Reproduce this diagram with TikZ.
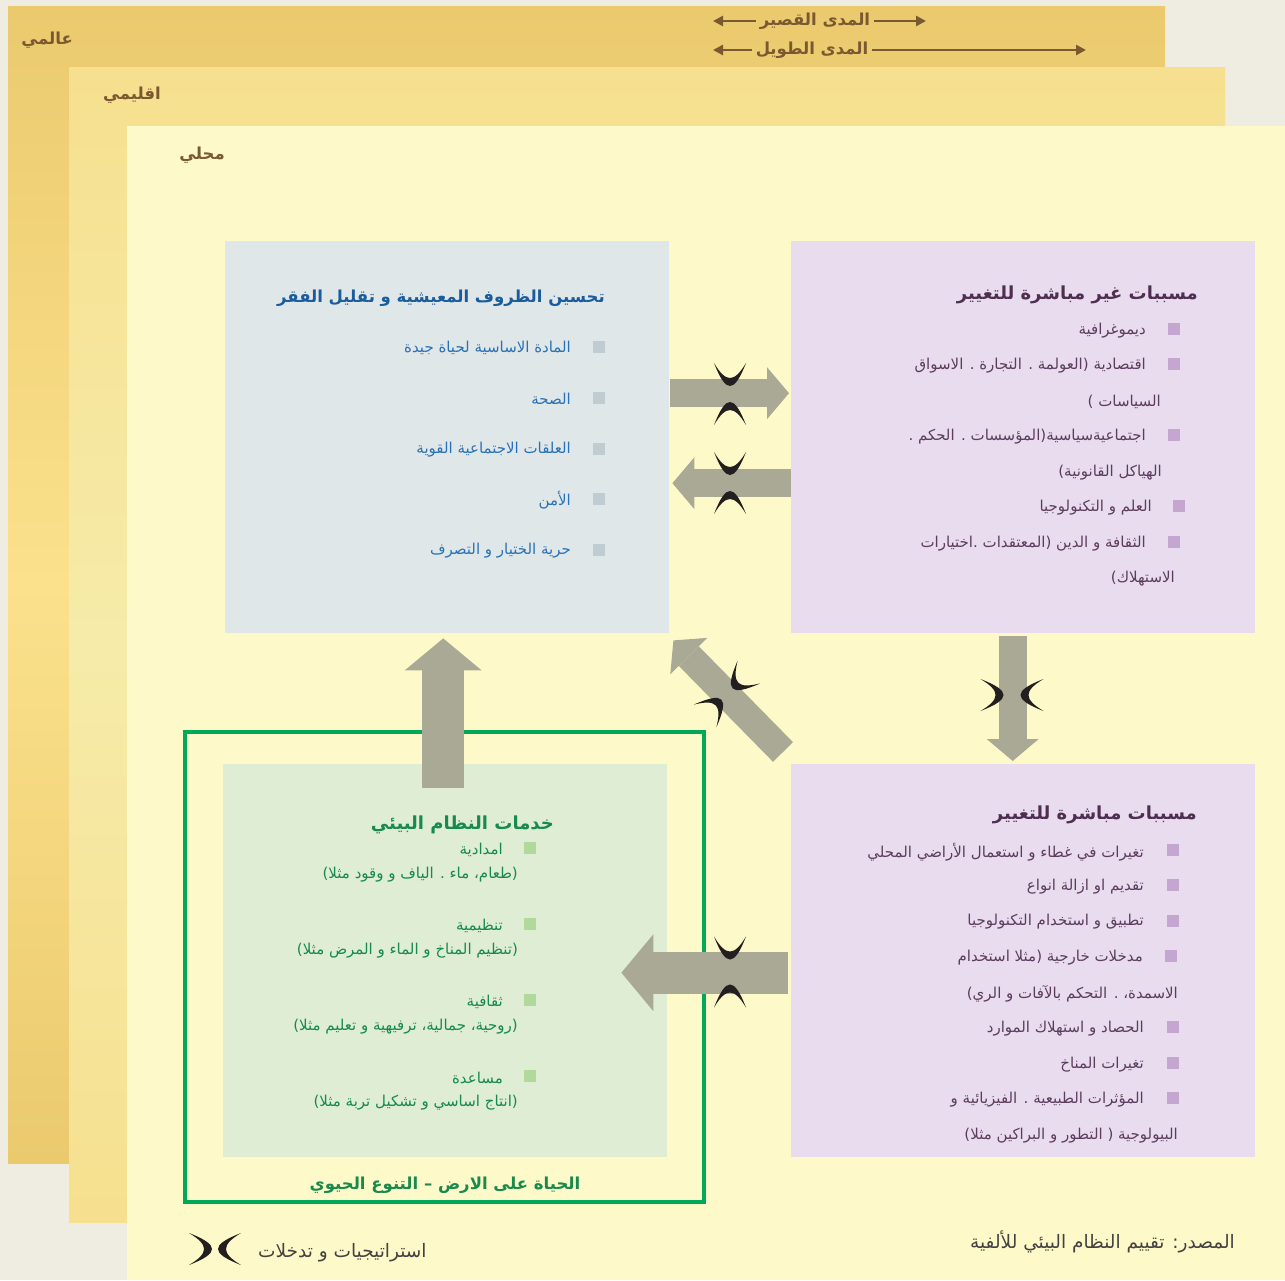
\documentclass[tikz,border=0pt]{standalone}
\usepackage{fontspec}
\usetikzlibrary{arrows.meta,calc}
\TeXXeTstate=1
\newfontfamily\arabicfont[Script=Arabic]{DejaVu Sans}
\newcommand\rl[1]{\beginR #1\endR}

\definecolor{paper}{HTML}{EFECE2}
\definecolor{globaltop}{HTML}{EBCA6E}
\definecolor{globalmid}{HTML}{FBE18C}
\definecolor{regiontop}{HTML}{F6E08F}
\definecolor{regionmid}{HTML}{F6EBA9}
\definecolor{localfill}{HTML}{FEF9C8}
\definecolor{labelbrown}{HTML}{7A5830}
\definecolor{bluebox}{HTML}{E0E7E9}
\definecolor{bluetitle}{HTML}{1A5C9C}
\definecolor{bluetext}{HTML}{2A72B5}
\definecolor{bluebullet}{HTML}{BFCCD2}
\definecolor{lilacbox}{HTML}{E9DCEE}
\definecolor{lilactitle}{HTML}{4E2F52}
\definecolor{lilactext}{HTML}{5C3D5F}
\definecolor{lilacbullet}{HTML}{C4A6D0}
\definecolor{greenbox}{HTML}{DEEDD3}
\definecolor{greentext}{HTML}{178A4C}
\definecolor{greenbullet}{HTML}{B1D99B}
\definecolor{greenframe}{HTML}{00A859}
\definecolor{flowgray}{HTML}{AAA996}
\definecolor{ink}{HTML}{231F20}

\begin{document}
\begin{tikzpicture}
    [x=1pt, y=-1pt,
      box/.style={rectangle, inner sep=0pt, anchor=north west},
      layer/.style={anchor=east, inner sep=0pt, text=labelbrown, font=\arabicfont\bfseries\fontsize{16.5}{19}\selectfont},
      heading/.style={anchor=east, inner sep=0pt, font=\arabicfont\bfseries\fontsize{18}{21}\selectfont},
      item/.style={anchor=east, inner sep=0pt, font=\arabicfont\fontsize{15}{18}\selectfont},
      smalltext/.style={inner sep=0pt, text=ink!85, font=\arabicfont\fontsize{18.5}{21}\selectfont},
      bullet/.style={rectangle, inner sep=0pt, minimum size=12pt},
      flowarrow/.style={draw=flowgray, line width=28pt, -{Triangle[width=52pt, length=22pt, line width=0pt]}},
      bigflowarrow/.style={draw=flowgray, line width=42pt, -{Triangle[width=77pt, length=32pt, line width=0pt]}},
      rangearrow/.style={draw=labelbrown, line width=2.5pt, -{Triangle[width=10pt, length=10pt]}},
      pics/pinch/.style={code={
        \foreach \s in {1,-1}
          \fill[ink, yscale=\s] (-16,-#1-23) .. controls (-4,-#1+7.7) and (4,-#1+7.7) .. (16,-#1-23)
            .. controls (4,-#1-3) and (-4,-#1-3) .. (-16,-#1-23) -- cycle;
      }}]
    % scales: global, regional, local
    \fill[paper] (0,0) rectangle (1285,1280);
    \useasboundingbox (0,0) rectangle (1285,1280);
    \fill[top color=globaltop, bottom color=globaltop, middle color=globalmid] (8,6) rectangle (1165,1163);
    \fill[top color=regiontop, bottom color=regiontop, middle color=regionmid] (69,67) rectangle (1225,1222);
    \fill[localfill] (127,126) rectangle (1285,1280);
    \node[layer] (global) at (73,40) {\rl{عالمي}};
    \node[layer] (regional) at (161,95) {\rl{اقليمي}};
    \node[layer] (local) at (225,155) {\rl{محلي}};

    % time ranges
    \node[layer, anchor=center, inner sep=4pt] (short) at (815,21) {\rl{المدى القصير}};
    \node[layer, anchor=center, inner sep=4pt] (long) at (812,50) {\rl{المدى الطويل}};
    \coordinate (shortL) at (713,21);
    \coordinate (shortR) at (926,21);
    \coordinate (longL) at (713,50);
    \coordinate (longR) at (1086,50);
    \draw[rangearrow] (short) -- (shortL);
    \draw[rangearrow] (short) -- (shortR);
    \draw[rangearrow] (long) -- (longL);
    \draw[rangearrow] (long) -- (longR);

    % the four boxes
    \node[box, fill=bluebox, minimum width=444pt, minimum height=392pt] (wellbeing) at (225,241) {};
    \node[box, fill=lilacbox, minimum width=464pt, minimum height=392pt] (indirect) at (791,241) {};
    \node[box, draw=greenframe, line width=4pt, outer sep=0pt, minimum width=519pt, minimum height=470pt] (life) at (185,732) {};
    \node[box, fill=greenbox, minimum width=444pt, minimum height=393pt] (services) at (223,764) {};
    \node[box, fill=lilacbox, minimum width=464pt, minimum height=393pt] (direct) at (791,764) {};

    % human well-being
    \node[heading, text=bluetitle, font=\arabicfont\bfseries\fontsize{16.5}{19}\selectfont] (wellbeing-title) at (605,298) {\rl{تحسين الظروف المعيشية و تقليل الفقر}};
    \foreach \y/\txt [count=\i] in {347/{المادة الاساسية لحياة جيدة}, 398/{الصحة}, 449/{العلقات الاجتماعية القوية}, 499/{الأمن}, 550/{حرية الختيار و التصرف}} {
      \node[bullet, fill=bluebullet] (wellbeing-b\i) at (599,\y) {};
      \node[item, text=bluetext] (wellbeing-\i) at (571,\y+1) {\rl{\txt}};
    }

    % indirect drivers
    \node[heading, text=lilactitle] (indirect-title) at (1198,295) {\rl{مسببات غير مباشرة للتغيير}};
    \foreach \x/\y [count=\i] in {1174/329, 1174/364, 1174/435, 1179/506, 1174/542}
      \node[bullet, fill=lilacbullet] (indirect-b\i) at (\x,\y) {};
    \foreach \x/\y/\txt [count=\i] in {1146/331/{ديموغرافية}, 1146/366/{اقتصادية (العولمة . التجارة . الاسواق}, 1161/402/{السياسات )},
        1146/437/{اجتماعيةسياسية(المؤسسات . الحكم .}, 1162/473/{الهياكل القانونية)}, 1152/508/{العلم و التكنولوجيا},
        1146/544/{الثقافة و الدين (المعتقدات .اختيارات}, 1175/579/{الاستهلاك)}}
      \node[item, text=lilactext] (indirect-\i) at (\x,\y) {\rl{\txt}};

    % direct drivers
    \node[heading, text=lilactitle] (direct-title) at (1197,815) {\rl{مسببات مباشرة للتغيير}};
    \foreach \x/\y [count=\i] in {1173/850, 1173/885, 1173/921, 1171/956, 1173/1027, 1173/1063, 1173/1098}
      \node[bullet, fill=lilacbullet] (direct-b\i) at (\x,\y) {};
    \foreach \x/\y/\txt [count=\i] in {1144/852/{تغيرات في غطاء و استعمال الأراضي المحلي}, 1144/887/{تقديم او ازالة انواع},
        1144/922/{تطبيق و استخدام التكنولوجيا}, 1143/958/{مدخلات خارجية (مثلا استخدام}, 1178/994/{الاسمدة، . التحكم بالآفات و الري)},
        1144/1029/{الحصاد و استهلاك الموارد}, 1144/1065/{تغيرات المناخ}, 1144/1100/{المؤثرات الطبيعية . الفيزيائية و},
        1178/1136/{البيولوجية ( التطور و البراكين مثلا)}}
      \node[item, text=lilactext] (direct-\i) at (\x,\y) {\rl{\txt}};

    % ecosystem services
    \node[heading, text=greentext] (services-title) at (554,825) {\rl{خدمات النظام البيئي}};
    \foreach \y [count=\i] in {848, 924, 1000, 1076}
      \node[bullet, fill=greenbullet] (services-b\i) at (530,\y) {};
    \foreach \x/\y/\txt [count=\i] in {503/850/{امدادية}, 518/875/{(طعام، ماء . الياف و وقود مثلا)}, 503/926/{تنظيمية},
        518/951/{(تنظيم المناخ و الماء و المرض مثلا)}, 503/1002/{ثقافية}, 518/1027/{(روحية، جمالية، ترفيهية و تعليم مثلا)},
        503/1078/{مساعدة}, 518/1103/{(انتاج اساسي و تشكيل تربة مثلا)}}
      \node[item, text=greentext] (services-\i) at (\x,\y) {\rl{\txt}};
    \node[heading, anchor=center, text=greentext, font=\arabicfont\bfseries\fontsize{16.5}{19}\selectfont] (life-title) at (445,1185) {\rl{الحياة على الارض – التنوع الحيوي}};

    % links between the boxes
    \draw[flowarrow] ($(wellbeing.east)+(1,-44)$) -- ($(indirect.west)+(-2,-44)$);
    \draw[flowarrow] ($(indirect.west)+(0,46)$) -- ($(wellbeing.east)+(3,46)$);
    \draw[flowarrow] ($(indirect.south)+(-10.5,3)$) -- ($(direct.north)+(-10.5,-3)$);
    \draw[flowarrow] ($(direct.north west)+(-8,-12)$) -- ($(wellbeing.south east)+(4,7)$);
    \draw[bigflowarrow] ($(direct.west)+(-3,12)$) -- ($(services.east)+(-46,12)$);
    \draw[bigflowarrow] ($(services.north)+(-2,24)$) -- ($(wellbeing.south)+(-4,5)$);

    % strategies and interventions
    \pic at (730,394) {pinch=8};
    \pic at (730,483) {pinch=8};
    \pic[rotate=90] at (1012,695) {pinch=8.5};
    \pic[rotate=-45] at (727,694) {pinch=8};
    \pic at (730,972) {pinch=12.5};

    % legend and source
    \pic[rotate=90] at (215,1249) {pinch=3};
    \node[smalltext, anchor=west] (legend) at (258,1253) {\rl{استراتيجيات و تدخلات}};
    \node[smalltext, anchor=east] (source) at (1235,1242) {\rl{المصدر: تقييم النظام البيئي للألفية}};
  \end{tikzpicture}
\end{document}
